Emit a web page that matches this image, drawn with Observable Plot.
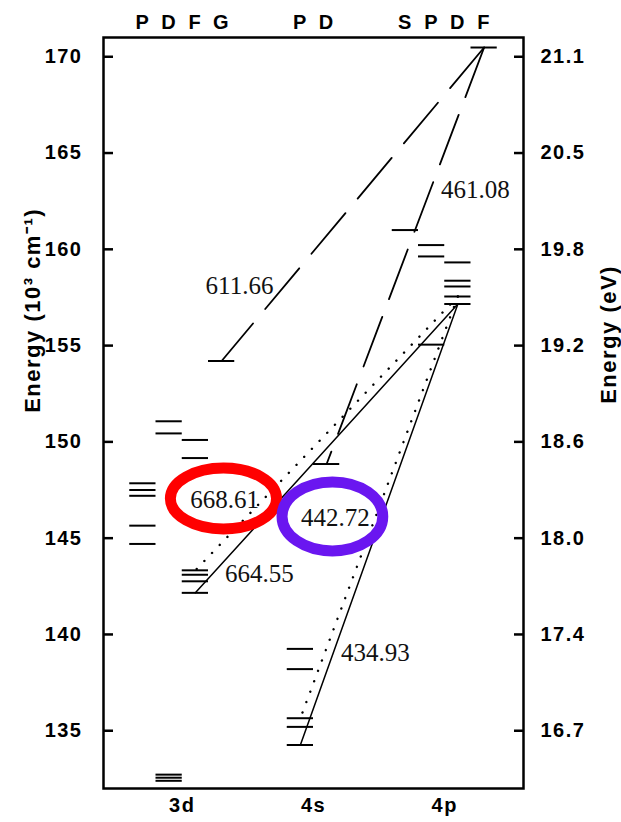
<!DOCTYPE html>
<html><head><meta charset="utf-8">
<script src="https://cdn.jsdelivr.net/npm/d3@7"></script>
<script src="https://cdn.jsdelivr.net/npm/@observablehq/plot@0.6"></script>
<style>
html,body{margin:0;padding:0;background:#fff;}
svg{display:block;}
[aria-label$="tick label"] text, .title text{letter-spacing:1.5px;}
</style></head><body><div id="chart"></div>
<script>
// ---- data ----
const groups = ["3d", "4s", "4p"];
const terms3d = ["P", "D", "F", "G"];
const terms4s = ["P", "D"];
const terms4p = ["S", "P", "D", "F"];

const levels3dP = [147.85, 147.5, 147.2, 145.65, 144.7];
const levels3dD = [151.07, 150.44, 132.72, 132.56, 132.4];
const levels3dF = [150.1, 149.16, 143.33, 143.1, 142.76, 142.16];
const levels3dG = [154.2];
const levels4sP = [139.25, 138.2, 135.65, 135.2, 134.26];
const levels4sD = [148.85];
const levels4pS = [161.0];
const levels4pP = [160.22, 159.63, 155.05];
const levels4pD = [159.32, 158.37, 158.07, 157.55, 157.16];
const levels4pF = [170.48];

const transitionNames  = ["611.66", "461.08", "664.55", "668.61", "434.93", "442.72"];
const transitionLower  = ["3d G", "4s D", "3d F", "3d F", "4s P", "4s P"];
const transitionLowerE = [154.2, 148.85, 142.16, 143.33, 134.26, 135.65];
const transitionUpper  = ["4p F", "4p F", "4p D", "4p D", "4p D", "4p D"];
const transitionUpperE = [170.48, 170.48, 157.16, 157.55, 157.16, 157.55];
const transitionKind   = ["dashed", "dashed", "solid", "dotted", "solid", "dotted"];

const energyTicks = [135, 140, 145, 150, 155, 160, 165, 170];
const eVLabels = ["16.7", "17.4", "18.0", "18.6", "19.2", "19.8", "20.5", "21.1"];

// ---- layout helpers ----
const groupTerms = [terms3d, terms4s, terms4p];
const colX = {};
const colTerm = [];
const groupCenter = [];
let offset = 0;
groups.forEach((g, gi) => {
  groupTerms[gi].forEach((t, ti) => { colX[g + " " + t] = offset + ti; colTerm.push({x: offset + ti, t}); });
  groupCenter.push(offset + (groupTerms[gi].length - 1) / 2);
  offset += groupTerms[gi].length + 2;
});

const levelLists = [
  ["3d P", levels3dP], ["3d D", levels3dD], ["3d F", levels3dF], ["3d G", levels3dG],
  ["4s P", levels4sP], ["4s D", levels4sD],
  ["4p S", levels4pS], ["4p P", levels4pP], ["4p D", levels4pD], ["4p F", levels4pF]
];
const levels = levelLists.flatMap(([c, arr]) => arr.map(E => ({x: colX[c], E})));

const linePts = transitionNames.flatMap((n, i) => [
  {id: n, kind: transitionKind[i], x: colX[transitionUpper[i]], E: transitionUpperE[i]},
  {id: n, kind: transitionKind[i], x: colX[transitionLower[i]], E: transitionLowerE[i]}
]);

// annotation anchors (data units)
const labelAt = {"611.66": [3.68, 158.12], "461.08": [12.67, 163.06], "668.61": [3.11, 147.0],
  "664.55": [4.44, 143.12], "442.72": [7.33, 146.03], "434.93": [8.86, 139.02]};
const labels = transitionNames.map(n => ({n, x: labelAt[n][0], E: labelAt[n][1]}));
const rings = [
  {n: "668.61", x: 3.07, E: 147.06, color: "#ff0000", r: 30.5, a: 1.74},
  {n: "442.72", x: 7.22, E: 146.13, color: "#6a16f0", r: 34.5, a: 1.46}
];

const ellipse = (aspect) => ({
  draw(ctx, size) {
    const ry = Math.sqrt(size / Math.PI), rx = ry * aspect, k = 0.5522847498;
    ctx.moveTo(rx, 0);
    ctx.bezierCurveTo(rx, k * ry, k * rx, ry, 0, ry);
    ctx.bezierCurveTo(-k * rx, ry, -rx, k * ry, -rx, 0);
    ctx.bezierCurveTo(-rx, -k * ry, -k * rx, -ry, 0, -ry);
    ctx.bezierCurveTo(k * rx, -ry, rx, -k * ry, rx, 0);
    ctx.closePath();
  }
});

const sans = "'Liberation Sans', Arial, sans-serif";
const serif = "'Liberation Serif', 'Times New Roman', serif";
const W = 621, H = 822, mL = 103, mR = 98, mT = 37, mB = 34;
const frameW = W - mL - mR;

const chart = Plot.plot({
  width: W, height: H,
  marginLeft: mL, marginRight: mR, marginTop: mT, marginBottom: mB,
  x: {domain: [-1.5, 14.5], axis: null},
  y: {domain: [132, 171], axis: null},
  style: {fontFamily: sans, background: "white", color: "black"},
  marks: [
    Plot.axisY({anchor: "left", ticks: energyTicks, tickSize: 0, tickPadding: 21, label: null,
      fontSize: 20, fontWeight: "bold", fontFamily: sans}),
    Plot.axisY({anchor: "right", ticks: energyTicks, tickSize: 0, tickPadding: 17, label: null,
      tickFormat: d => eVLabels[energyTicks.indexOf(d)], fontSize: 20, fontWeight: "bold", fontFamily: sans}),
    Plot.tickY(energyTicks, {y: d => d, insetRight: frameW - 10, strokeWidth: 2.5}),
    Plot.tickY(energyTicks, {y: d => d, insetLeft: frameW - 9, strokeWidth: 2.5}),
    Plot.axisX({anchor: "top", ticks: colTerm.map(d => d.x), tickSize: 0, tickPadding: 9, label: null,
      tickFormat: d => colTerm.find(c => c.x === d).t, fontSize: 20, fontWeight: "bold", fontFamily: sans}),
    Plot.axisX({anchor: "bottom", ticks: groupCenter, tickSize: 0, tickPadding: 9, label: null,
      tickFormat: d => groups[groupCenter.indexOf(d)], fontSize: 20, fontWeight: "bold", fontFamily: sans}),
    Plot.text(["Energy (10³ cm⁻¹)"], {text: d => d, y: () => 156.83, frameAnchor: "left", dx: -71, rotate: -90,
      textAnchor: "middle", fontSize: 22, fontWeight: "bold", fontFamily: sans, className: "title"}),
    Plot.text(["Energy (eV)"], {text: d => d, y: () => 155.58, frameAnchor: "right", dx: 85, rotate: -90,
      textAnchor: "middle", fontSize: 22, fontWeight: "bold", fontFamily: sans, className: "title"}),
    Plot.frame({strokeWidth: 2.5}),
    Plot.ruleY(levels, {y: "E", x1: d => d.x - 0.5, x2: d => d.x + 0.5, strokeWidth: 2}),
    Plot.line(linePts.filter(d => d.kind === "solid"), {x: "x", y: "E", z: "id", strokeWidth: 1.5}),
    Plot.line(linePts.filter(d => d.kind === "dashed"), {x: "x", y: "E", z: "id", strokeWidth: 1.8, strokeDasharray: "53,19"}),
    Plot.line(linePts.filter(d => d.kind === "dotted"), {x: "x", y: "E", z: "id", strokeWidth: 2.4,
      strokeDasharray: "0.1,11", strokeLinecap: "round"}),
    Plot.text(labels, {x: "x", y: "E", text: "n", fontFamily: serif, fontSize: 25, fill: "#111"}),
    ...rings.map(r => Plot.dot([r], {x: "x", y: "E", r: r.r, symbol: ellipse(r.a), stroke: r.color,
      strokeWidth: 11, fill: "none"}))
  ]
});
document.getElementById("chart").appendChild(chart);
</script>
</body></html>
